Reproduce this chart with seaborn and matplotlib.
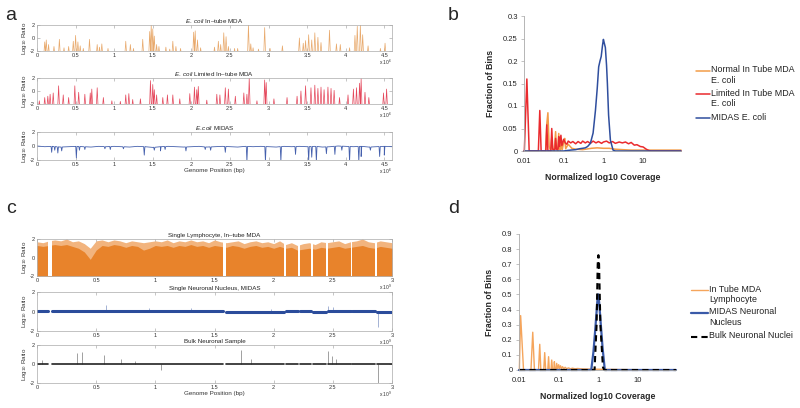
import numpy as np
import pandas as pd
import matplotlib
matplotlib.use("Agg")
import matplotlib.pyplot as plt
import seaborn as sns
from matplotlib.lines import Line2D
from matplotlib.ticker import NullLocator

# ---------------- panel a: E. coli log10 ratio traces (positions in Mb) ----------------
a_mda_pos = [0.10, 0.12, 0.15, 0.22, 0.29, 0.35, 0.41, 0.47, 0.50, 0.53,
             0.56, 0.60, 0.68, 0.78, 0.81, 0.84, 0.92, 1.15, 1.21, 1.25,
             1.37, 1.46, 1.48, 1.50, 1.52, 1.55, 1.58, 1.67, 1.72, 1.76,
             1.80, 1.86, 2.03, 2.05, 2.08, 2.12, 2.30, 2.35, 2.38, 2.42,
             2.45, 2.48, 2.56, 2.60, 2.74, 2.77, 2.80, 2.87, 2.95, 3.02,
             3.18, 3.40, 3.45, 3.48, 3.52, 3.56, 3.60, 3.64, 3.68, 3.79,
             3.88, 3.93, 4.05, 4.12, 4.15, 4.19, 4.22, 4.29, 4.45, 4.51]
a_mda_peak = [-0.6, -0.3, -1.0, -1.3, -0.2, -1.5, -1.3, -0.5, 0.4, -0.6,
              -1.2, -1.6, -0.2, -1.0, -1.4, -0.9, -1.6, -0.5, -1.0, -1.6,
              -0.2, 1.0, 2.0, 1.4, 0.3, -1.0, -1.3, -1.4, -1.7, -0.5,
              -1.3, -1.6, 0.9, 1.1, -0.3, -1.5, -1.4, -0.5, -1.0, 0.8,
              0.2, -1.3, -1.6, -1.6, 2.0, -0.9, -1.5, -1.7, 1.6, -1.6,
              -1.2, 0.0, -0.8, -0.4, 0.5, -0.3, 0.8, 0.1, -0.7, 1.2,
              -0.9, -1.0, -1.5, 0.4, 1.8, 2.0, 0.5, -1.2, -1.6, -0.8]

a_lim_pos = [0.03, 0.10, 0.14, 0.17, 0.21, 0.28, 0.34, 0.41, 0.49, 0.54,
             0.62, 0.69, 0.71, 0.78, 0.86, 0.97, 1.08, 1.15, 1.19, 1.24,
             1.34, 1.47, 1.50, 1.52, 1.55, 1.63, 1.69, 1.76, 1.85, 1.98,
             2.04, 2.07, 2.09, 2.20, 2.33, 2.37, 2.44, 2.48, 2.57, 2.68,
             2.72, 2.75, 2.85, 2.95, 2.97, 3.07, 3.24, 3.37, 3.42, 3.48,
             3.55, 3.60, 3.64, 3.68, 3.72, 3.77, 3.81, 3.85, 3.92, 4.03,
             4.10, 4.14, 4.18, 4.20, 4.25, 4.30, 4.49, 4.53]
a_lim_peak = [-1.5, -1.0, -0.8, -0.5, -0.3, 0.8, -0.6, -1.0, 0.8, -0.2,
              -0.5, -0.3, 0.3, 0.5, -1.0, -1.5, -1.6, -0.6, -0.4, -1.3,
              -1.2, 1.6, 1.0, 0.2, -0.6, -1.0, -0.6, -0.6, -1.2, -0.4,
              0.6, 0.2, 0.7, -1.4, -0.5, -0.6, 0.5, 0.3, -0.8, -0.3,
              -0.5, 2.0, -1.5, 1.7, 1.3, -1.2, -1.0, -0.8, 0.0, 0.8,
              0.5, 0.9, 0.4, 0.6, 0.2, 0.6, 0.4, 0.1, -1.0, -0.6,
              0.3, 0.5, 1.2, 1.9, -0.2, -1.0, -0.3, 0.3]

# MIDAS: baseline every 0.1 Mb plus narrow dips
a_midas_base_pos = np.round(np.arange(0, 4.61, 0.1), 2)
a_midas_base = [0.0, -0.1, -0.05, -0.15, -0.1, -0.05, -0.1, -0.15, -0.05, -0.1,
                -0.05, -0.1, -0.15, -0.05, -0.1, -0.2, -0.1, -0.05, -0.1, -0.15,
                -0.1, -0.05, -0.15, -0.1, -0.05, -0.1, -0.15, -0.05, -0.1, -0.05,
                -0.1, -0.15, -0.05, -0.1, -0.05, -0.1, -0.05, -0.15, -0.1, 0.0,
                -0.05, -0.1, -0.05, -0.15, -0.1, -0.05, -0.1]
a_midas_dip_pos = [0.19, 0.23, 0.27, 0.32, 0.51, 0.55, 0.62, 0.88, 0.95, 1.12,
                   1.39, 1.52, 1.60, 1.66, 1.93, 2.18, 2.25, 2.44, 2.72, 2.96,
                   3.16, 3.35, 3.52, 3.56, 3.62, 3.75, 3.86, 3.95, 4.05, 4.17,
                   4.20, 4.32, 4.44, 4.50]
a_midas_dip = [-0.9, -0.6, -1.0, -0.7, -1.7, -0.6, -0.5, -0.4, -0.5, -0.4,
               -1.3, -0.6, -0.7, -0.5, -0.7, -0.5, -0.6, -0.9, -2.2, -2.2,
               -2.2, -1.2, -2.2, -1.6, -2.2, -1.1, -1.2, -0.6, -2.2, -2.2,
               -1.5, -0.6, -1.5, -1.3]

# ---------------- panel b: coverage distributions, E. coli ----------------
b_normal_x = [0.01, 0.035, 0.0375, 0.040, 0.043, 0.047, 0.05, 0.053, 0.058, 0.0625,
              0.066, 0.071, 0.075, 0.079, 0.083, 0.0875, 0.092, 0.1, 0.106, 0.112,
              0.13, 0.16, 0.2, 0.3, 0.5, 0.7, 1.0, 1.4, 2.0, 3.0,
              5.0, 10, 20, 50, 90]
b_normal_y = [0, 0, 0.06, 0.085, 0.01, 0, 0.03, 0.002, 0, 0.043,
              0.004, 0, 0.039, 0.004, 0.002, 0.025, 0.003, 0.02, 0.028, 0.005,
              0.015, 0.006, 0.004, 0.003, 0.006, 0.007, 0.006, 0.006, 0.004, 0.003,
              0.002, 0.002, 0.002, 0.002, 0.002]
b_limited_x = [0.0102, 0.0118, 0.0135, 0.023, 0.025, 0.027, 0.0355, 0.0375, 0.040, 0.0475,
               0.050, 0.053, 0.060, 0.0625, 0.066, 0.072, 0.075, 0.079, 0.085, 0.090,
               0.10, 0.11, 0.12, 0.13, 0.15, 0.17, 0.20, 0.23, 0.27, 0.30,
               0.35, 0.40, 0.47, 0.55, 0.65, 0.75, 0.90, 1.0, 1.2, 1.4,
               1.7, 2.0, 2.5, 3.0, 3.6, 4.3, 5.0, 6.0, 7.0, 8.5,
               10, 12, 14, 16, 90]
b_limited_y = [0, 0.16, 0, 0, 0.09, 0, 0, 0.058, 0, 0,
               0.05, 0.004, 0.003, 0.028, 0.004, 0.004, 0.032, 0.01, 0.035, 0.012,
               0.026, 0.018, 0.015, 0.022, 0.018, 0.021, 0.016, 0.021, 0.017, 0.022,
               0.018, 0.021, 0.017, 0.022, 0.018, 0.021, 0.017, 0.02, 0.022, 0.018,
               0.021, 0.017, 0.02, 0.018, 0.02, 0.016, 0.019, 0.013, 0.014, 0.01,
               0.009, 0.004, 0.001, 0, 0]
b_midas_x = [0.01, 0.1, 0.12, 0.15, 0.2, 0.25, 0.3, 0.35, 0.4, 0.47,
             0.55, 0.63, 0.7, 0.76, 0.82, 0.88, 0.95, 1.0, 1.05, 1.12,
             1.2, 1.26, 1.35, 1.5, 1.75, 2.0, 90]
b_midas_y = [0, 0, 0.001, 0.002, 0.003, 0.005, 0.006, 0.007, 0.01, 0.017,
             0.04, 0.09, 0.14, 0.187, 0.2, 0.21, 0.235, 0.248, 0.24, 0.23,
             0.19, 0.15, 0.08, 0.024, 0.002, 0, 0]

# ---------------- panel c: human log10 ratio (positions in Gb) ----------------
c_pos = np.round(np.arange(0, 3.001, 0.05), 2)
c_mda_core = [1.3, 1.2, 1.3, 1.4, 1.3, 1.4, 1.2, 1.0, 0.6, -0.2,
              0.8, 1.3, 1.2, 1.4, 1.3, 1.1, 1.3, 1.2, 0.8, 1.0,
              1.3, 1.2, 1.3, 1.1, 1.3, 1.2, 1.4, 1.2, 1.3, 1.1,
              1.3, 1.2, 1.1, 1.3, 1.2, 1.0, 1.2, 1.3, 1.1, 1.2,
              1.0, 1.2, 1.0, 1.1, 0.8, 0.9, 1.0, 0.9, 1.1, 1.0,
              1.1, 1.2, 1.0, 1.1, 1.2, 1.3, 1.1, 1.0, 1.2, 1.1, 1.0]
c_mda_top = [1.7, 1.6, 1.8, 1.9, 1.8, 2.0, 1.7, 1.8, 1.5, 1.0,
             1.8, 1.9, 1.7, 1.9, 1.8, 1.6, 1.8, 1.7, 1.6, 1.7,
             1.8, 1.7, 1.9, 1.6, 1.8, 1.7, 1.9, 1.7, 1.8, 1.6,
             1.9, 1.7, 1.6, 1.7, 1.8, 1.5, 1.7, 1.8, 1.6, 1.7,
             1.5, 1.8, 1.4, 1.6, 1.3, 1.5, 1.6, 1.4, 1.7, 1.6,
             1.7, 1.8, 1.5, 1.7, 1.8, 2.0, 1.7, 1.6, 1.8, 1.7, 1.6]
c_gap_start = [0.09, 1.57, 2.085, 2.205, 2.315, 2.445, 2.655, 2.855]
c_gap_end = [0.125, 1.60, 2.10, 2.225, 2.33, 2.455, 2.665, 2.87]
c_midas_level = [0.05, 0.05, 0.0, 0.05, 0.05, 0.0, 0.05, 0.05, 0.0]
c_bulk_level = [0.0, 0.0, 0.0, 0.0, 0.0, 0.0, 0.0, 0.0, 0.0]
c_midas_spike_pos = [0.58, 0.95, 1.30, 1.98, 2.46, 2.50, 2.88]
c_midas_spike = [0.7, 0.4, 0.4, 0.3, 0.6, 0.5, -1.6]
c_bulk_spike_pos = [0.04, 0.34, 0.38, 0.57, 0.71, 0.83, 1.05, 1.72, 1.81, 2.46, 2.49, 2.53, 2.88]
c_bulk_spike = [0.4, 1.2, 1.3, 1.0, 0.5, 0.3, -0.6, 1.5, 0.5, 1.4, 0.8, 0.5, -2.2]

# ---------------- panel d: coverage distributions, human ----------------
d_mda_x = [0.0102, 0.0110, 0.013, 0.020, 0.0222, 0.0245, 0.031, 0.0333, 0.0355, 0.042,
           0.0444, 0.047, 0.053, 0.0556, 0.058, 0.064, 0.0667, 0.070, 0.075, 0.0778,
           0.081, 0.086, 0.0889, 0.094, 0.1, 0.105, 0.111, 0.118, 0.125, 0.135,
           0.145, 0.16, 0.175, 0.2, 0.22, 0.26, 0.3, 0.4, 0.6, 1.0,
           2.0, 4.0, 10, 90]
d_mda_y = [0.0, 0.36, 0, 0, 0.25, 0, 0, 0.17, 0, 0,
           0.115, 0, 0, 0.088, 0, 0, 0.066, 0, 0, 0.055,
           0.002, 0.002, 0.044, 0.006, 0.035, 0.008, 0.028, 0.008, 0.022, 0.008,
           0.018, 0.008, 0.014, 0.008, 0.012, 0.008, 0.01, 0.007, 0.006, 0.005,
           0.004, 0.003, 0.002, 0.002]
d_midas_x = [0.01, 0.66, 0.75, 0.84, 0.92, 0.97, 1.0, 1.05, 1.15, 1.27, 1.45, 90]
d_midas_y = [0, 0, 0.12, 0.28, 0.42, 0.5, 0.5, 0.44, 0.3, 0.15, 0, 0]
d_bulk_x = [0.01, 0.8, 0.9, 0.96, 1.0, 1.04, 1.12, 1.3, 1.4, 90]
d_bulk_y = [0, 0, 0.3, 0.7, 0.76, 0.7, 0.3, 0.02, 0, 0]

# ---------------- styling ----------------
sns.set_style("ticks")
plt.rcParams["font.family"] = ["Liberation Sans", "DejaVu Sans"]
plt.rcParams["mathtext.fontset"] = "custom"
plt.rcParams["mathtext.rm"] = "Liberation Sans"
plt.rcParams["mathtext.it"] = "Liberation Sans:italic"
plt.rcParams["axes.unicode_minus"] = False

W, H = 800, 408
fig = plt.figure(figsize=(W / 100, H / 100), dpi=100)


def add_ax(left, top, right, bottom):
    return fig.add_axes([left / W, 1 - bottom / H, (right - left) / W, (bottom - top) / H])


def spike_frame(pos, val, base=-2.6, half=0.012):
    rows = []
    for p, v in zip(pos, val):
        rows += [(p - half, base), (p, v), (p + half, base)]
    return pd.DataFrame(rows, columns=["x", "y"])


def dip_frame(base_pos, base_val, dip_pos, dip_val, half=0.008):
    xs, ys = list(base_pos), list(base_val)
    for p, v in zip(dip_pos, dip_val):
        lvl = np.interp(p, base_pos, base_val)
        xs += [p - half, p, p + half]
        ys += [lvl, v, lvl]
    return pd.DataFrame({"x": xs, "y": ys}).sort_values("x", kind="stable")


def style_genome(ax, xmax, ticks, title, exp, xlabel=""):
    ax.set_xlim(0, xmax)
    ax.set_ylim(-2, 2)
    ax.set_yticks([-2, 0, 2])
    ax.set_yticklabels(["-2", "0", "2"])
    ax.set_xticks(ticks)
    ax.set_xticklabels([f"{t:g}" for t in ticks])
    ax.tick_params(direction="in", length=2, width=0.4, labelsize=4, pad=1.5,
                   top=True, right=True, labelcolor="#333", color="#999")
    for s in ax.spines.values():
        s.set_visible(True)
        s.set_linewidth(0.5)
        s.set_color("#aaa")
    ax.set_title(title, fontsize=4.5, pad=1.5, color="#222")
    ax.set_ylabel("Log$_{10}$ Ratio", fontsize=4.5, labelpad=1, color="#333")
    ax.set_xlabel(xlabel, fontsize=4.5, labelpad=0.5, color="#333")
    ax.annotate(f"x 10$^{{{exp}}}$", xy=(1, 0), xycoords="axes fraction", xytext=(0, -8),
                textcoords="offset points", ha="right", va="center", fontsize=3.5, color="#333")


def style_cov(ax, ymax, yticks):
    ax.set_xscale("log")
    ax.set_xlim(0.01, 90)
    ax.set_ylim(0, ymax)
    ax.set_xticks([0.01, 0.1, 1, 10])
    ax.set_xticklabels(["0.01", "0.1", "1", "10"])
    ax.xaxis.set_minor_locator(NullLocator())
    ax.set_yticks(yticks)
    ax.set_yticklabels([f"{round(v, 2):g}" for v in yticks])
    sns.despine(ax=ax)
    for s in ("left", "bottom"):
        ax.spines[s].set_color("#aaa")
        ax.spines[s].set_linewidth(0.6)
    ax.tick_params(axis="y", length=2.5, width=0.5, color="#aaa", labelsize=5.5, pad=2)
    ax.tick_params(axis="x", length=0, labelsize=5.5, pad=5)
    ax.set_xlabel("Normalized log10 Coverage", fontsize=6.3, fontweight="bold", labelpad=6)
    ax.set_ylabel("Fraction of Bins", fontsize=6.3, fontweight="bold", labelpad=6)
    for ln in ax.lines:
        ln.set_clip_on(False)


def legend_entry(x0, x1, y, color, lw, label, ls="-"):
    fig.add_artist(Line2D([x0 / W, x1 / W], [1 - y / H, 1 - y / H], color=color, lw=lw, ls=ls))
    fig.text((x1 + 1) / W, 1 - (y - 5.5) / H, label, fontsize=6.4, va="top",
             linespacing=1.25, color="#222")


# ---------------- panel a ----------------
a1 = add_ax(37, 25, 392, 51)
sns.lineplot(data=spike_frame(a_mda_pos, a_mda_peak), x="x", y="y", sort=False,
             estimator=None, ax=a1, color="#e8a96c", linewidth=0.5)
style_genome(a1, 4.6, np.arange(0, 4.6, 0.5), r"$\mathit{E.\ coli}$ In–tube MDA", 6)

a2 = add_ax(37, 78, 392, 104)
sns.lineplot(data=spike_frame(a_lim_pos, a_lim_peak), x="x", y="y", sort=False,
             estimator=None, ax=a2, color="#e4485c", linewidth=0.5)
style_genome(a2, 4.6, np.arange(0, 4.6, 0.5), r"$\mathit{E.\ coli}$ Limited In–tube MDA", 6)

a3 = add_ax(37, 132, 392, 160)
sns.lineplot(data=dip_frame(a_midas_base_pos, a_midas_base, a_midas_dip_pos, a_midas_dip),
             x="x", y="y", sort=False, estimator=None, ax=a3, color="#4560ad", linewidth=0.6)
style_genome(a3, 4.6, np.arange(0, 4.6, 0.5), r"$\mathit{E.coli}$ MIDAS", 6,
             xlabel="Genome Position (bp)")

# ---------------- panel b ----------------
b = add_ax(524, 16, 681, 151)
for xs, ys, col in [(b_normal_x, b_normal_y, "#f39c48"),
                    (b_limited_x, b_limited_y, "#ea2a2e"),
                    (b_midas_x, b_midas_y, "#2f4e9e")]:
    sns.lineplot(x=xs, y=ys, sort=False, estimator=None, ax=b, color=col, linewidth=1.1)
style_cov(b, 0.3, np.arange(0, 0.301, 0.05))
legend_entry(696, 710, 71, "#f39c48", 1.1, "Normal In Tube MDA\nE. coli")
legend_entry(696, 710, 94, "#ea2a2e", 1.1, "Limited In Tube MDA\nE. coli")
legend_entry(696, 710, 118, "#2f4e9e", 1.1, "MIDAS E. coli")

# ---------------- panel c ----------------
seg_start = [0.0] + c_gap_end
seg_end = c_gap_start + [3.0]
c_ticks = np.arange(0, 3.01, 0.5)

c1 = add_ax(37, 239, 392, 276)
c1.fill_between(c_pos, -2, c_mda_top, color="#f2b47e", lw=0)
c1.fill_between(c_pos, -2, c_mda_core, color="#e8832b", lw=0)
for s, e in zip(c_gap_start, c_gap_end):
    c1.axvspan(s, e, color="white", lw=0)
style_genome(c1, 3.0, c_ticks, "Single Lymphocyte, In–tube MDA", 9)

for ax_box, level, spos, sval, col, lw, title, xl in [
    ((37, 292, 392, 331), c_midas_level, c_midas_spike_pos, c_midas_spike, "#2b4c9b", 2.2,
     "Single Neuronal Nucleus, MIDAS", ""),
    ((37, 345, 392, 383), c_bulk_level, c_bulk_spike_pos, c_bulk_spike, "#222222", 1.2,
     "Bulk Neuronal Sample", "Genome Position (bp)"),
]:
    ax = add_ax(*ax_box)
    seg = pd.DataFrame({
        "x": [v for s, e in zip(seg_start, seg_end) for v in (s, e)],
        "y": [v for lv in level for v in (lv, lv)],
        "seg": [i for i in range(len(seg_start)) for _ in range(2)],
    })
    ax.vlines(spos, 0, sval, color=col, lw=0.5, alpha=0.6)
    sns.lineplot(data=seg, x="x", y="y", units="seg", estimator=None, ax=ax,
                 color=col, linewidth=lw)
    style_genome(ax, 3.0, c_ticks, title, 9, xlabel=xl)

# ---------------- panel d ----------------
d = add_ax(519, 234, 676, 370)
sns.lineplot(x=d_mda_x, y=d_mda_y, sort=False, estimator=None, ax=d, color="#f5a55c", linewidth=1.0)
sns.lineplot(x=d_midas_x, y=d_midas_y, sort=False, estimator=None, ax=d, color="#3a5aa8", linewidth=1.6)
sns.lineplot(x=d_bulk_x, y=d_bulk_y, sort=False, estimator=None, ax=d, color="black",
             linewidth=1.5, dashes=False)
d.lines[-1].set_dashes((3, 2))
style_cov(d, 0.9, np.arange(0, 0.901, 0.1))
legend_entry(691, 708, 290, "#f5a55c", 1.0, "In Tube MDA\nLymphocyte")
legend_entry(691, 708, 313, "#3a5aa8", 1.6, "MIDAS Neuronal\nNucleus")
legend_entry(691, 708, 337, "black", 1.5, "Bulk Neuronal Nuclei", ls=(0, (3, 2)))

# panel letters
for x, y, letter in [(5, 20, "a"), (448, 20, "b"), (6, 213, "c"), (448, 213, "d")]:
    fig.text(x / W, 1 - y / H, letter, fontsize=14, va="baseline")

fig.savefig("out.png", dpi=100)
